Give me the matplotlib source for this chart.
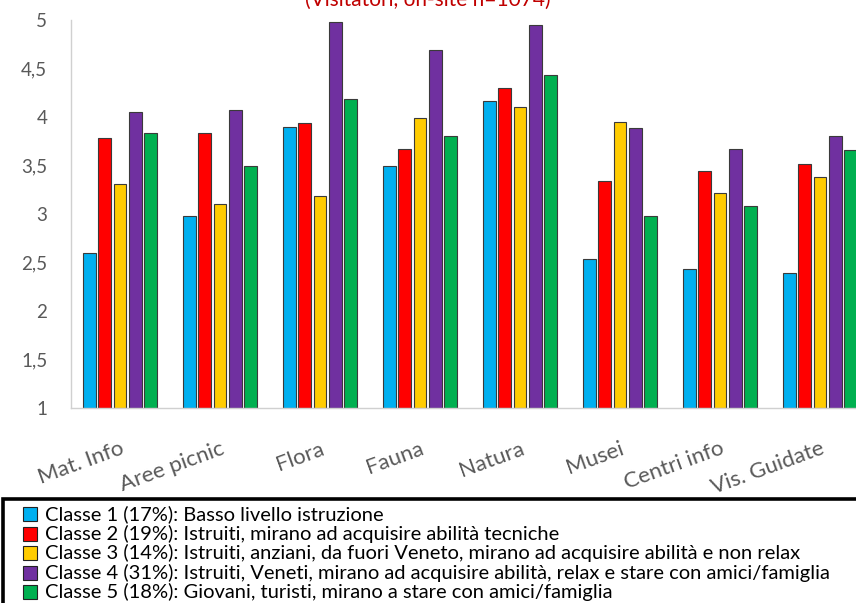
import matplotlib.pyplot as plt
from matplotlib.patches import Rectangle
import numpy as np

plt.rcParams['font.family'] = ['Lato', 'DejaVu Sans']

categories = ["Mat. Info", "Aree picnic", "Flora", "Fauna", "Natura", "Musei", "Centri info", "Vis. Guidate"]

classe1 = [2.60, 2.98, 3.90, 3.50, 4.17, 2.54, 2.43, 2.39]
classe2 = [3.78, 3.84, 3.94, 3.67, 4.30, 3.34, 3.44, 3.52]
classe3 = [3.31, 3.10, 3.19, 3.99, 4.10, 3.95, 3.22, 3.38]
classe4 = [4.05, 4.07, 4.98, 4.69, 4.95, 3.89, 3.67, 3.80]
classe5 = [3.84, 3.50, 4.19, 3.80, 4.43, 2.98, 3.08, 3.66]

labels = [
    "Classe 1 (17%): Basso livello istruzione",
    "Classe 2 (19%): Istruiti, mirano ad acquisire abilità tecniche",
    "Classe 3 (14%): Istruiti, anziani, da fuori Veneto, mirano ad acquisire abilità e non relax",
    "Classe 4 (31%): Istruiti, Veneti, mirano ad acquisire abilità, relax e stare con amici/famiglia",
    "Classe 5 (18%): Giovani, turisti, mirano a stare con amici/famiglia",
]
colors = ["#00B0F0", "#FF0000", "#FFCC00", "#7030A0", "#00B050"]
series = [classe1, classe2, classe3, classe4, classe5]

W, H = 856, 603
fig = plt.figure(figsize=(W / 100, H / 100), dpi=100)
ax = fig.add_axes([71 / W, (H - 408) / H, (W - 71) / W, (408 - 20) / H])

x = np.arange(len(categories))
pitch = 0.153
width = 0.125
for i, (vals, c) in enumerate(zip(series, colors)):
    ax.bar(x + (i - 2) * pitch, np.array(vals) - 1, width, bottom=1,
           color=c, edgecolor="#3a3a3a", linewidth=0.8)

ax.set_xlim(-0.49, 7.36)
ax.set_ylim(1, 5)
yt = [1, 1.5, 2, 2.5, 3, 3.5, 4, 4.5, 5]
ax.set_yticks(yt)
ax.set_yticklabels([f"{v:g}".replace(".", ",") for v in yt], fontsize=13.5, color="#595959")
ax.set_xticks(x)
ax.set_xticklabels(categories, rotation=20, ha="right", va="top", rotation_mode="anchor",
                   fontsize=16, color="#595959")
ax.tick_params(length=0)
ax.tick_params(axis="y", pad=17)
ax.tick_params(axis="x", pad=22)
for s in ["top", "right"]:
    ax.spines[s].set_visible(False)
for s in ["left", "bottom"]:
    ax.spines[s].set_color("#d0d0d0")
    ax.spines[s].set_linewidth(1)

fig.text(0.5, 1.0, "(Visitatori, on-site n=1074)", ha="center", va="center",
         color="#C00000", fontsize=15)

# legend box drawn by hand (bottom and right run off the image)
fig.patches.append(Rectangle((3 / W, -0.05), 1.0, (H - 499) / H + 0.05,
                             transform=fig.transFigure, fill=False,
                             edgecolor="black", linewidth=2.6))
row_y = [514, 533.5, 553, 572.5, 592]
for lab, c, yy in zip(labels, colors, row_y):
    fig.patches.append(Rectangle((23 / W, (H - yy - 7) / H), 14 / W, 14 / H,
                                 transform=fig.transFigure, facecolor=c,
                                 edgecolor="#222222", linewidth=0.8))
    fig.text(45 / W, (H - yy) / H, lab, ha="left", va="center", fontsize=14.5, color="black")

fig.savefig("out.png", dpi=100)
